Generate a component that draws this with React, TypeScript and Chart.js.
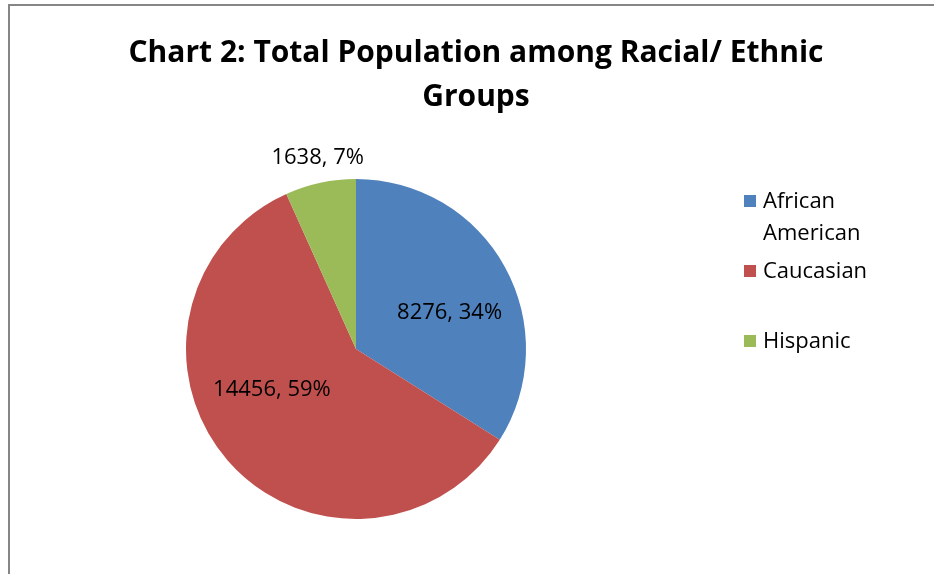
import React, { useEffect, useRef } from "react";
import { Chart, registerables } from "chart.js";

Chart.register(...registerables);

const categories = ["African American", "Caucasian", "Hispanic"];
const populationValues = [8276, 14456, 1638];
const sliceColors = ["#4F81BD", "#C0504D", "#9BBB59"];
const titleLines = ["Chart 2: Total Population among Racial/ Ethnic", "Groups"];
const legendLines = [["African", "American"], ["Caucasian"], ["Hispanic"]];

const FONT = "'Open Sans', 'Noto Sans', sans-serif";

const overlayPlugin = {
  id: "overlay",
  afterDraw(chart: any) {
    const ctx = chart.ctx as CanvasRenderingContext2D;
    const W = chart.width;
    ctx.save();
    // Title
    ctx.fillStyle = "#000";
    ctx.font = `bold 30px ${FONT}`;
    ctx.textAlign = "center";
    ctx.textBaseline = "alphabetic";
    titleLines.forEach((t, i) => ctx.fillText(t, 476, 62 + i * 44));

    // Data labels
    const meta = chart.getDatasetMeta(0);
    const data = chart.data.datasets[0].data as number[];
    const total = data.reduce((a, b) => a + b, 0);
    const radialFactor = [0.59, 0.55, 1.15];
    const angleShift = [7.8, 15, 0.8];
    ctx.font = `22px ${FONT}`;
    ctx.textAlign = "center";
    ctx.textBaseline = "middle";
    meta.data.forEach((arc: any, i: number) => {
      const p = arc.getProps(["x", "y", "startAngle", "endAngle", "outerRadius"], true);
      const mid = (p.startAngle + p.endAngle) / 2 + (angleShift[i] * Math.PI) / 180;
      const r = p.outerRadius * radialFactor[i];
      const x = p.x + Math.cos(mid) * r;
      const y = p.y + Math.sin(mid) * r;
      const pct = Math.round((data[i] / total) * 100);
      ctx.fillText(`${data[i]}, ${pct}%`, x, y);
    });

    // Legend
    ctx.textAlign = "left";
    ctx.textBaseline = "alphabetic";
    ctx.font = `22px ${FONT}`;
    legendLines.forEach((lines, i) => {
      const base = 208 + i * 70;
      ctx.fillStyle = sliceColors[i];
      ctx.fillRect(744, base - 13, 12, 12);
      ctx.fillStyle = "#000";
      lines.forEach((ln, j) => ctx.fillText(ln, 763, base + j * 32));
    });
    ctx.restore();
  },
};

export default function App() {
  const ref = useRef<HTMLCanvasElement | null>(null);
  useEffect(() => {
    if (!ref.current) return;
    const chart = new Chart(ref.current, {
      type: "pie",
      data: {
        labels: categories,
        datasets: [
          {
            data: populationValues,
            backgroundColor: sliceColors,
            borderWidth: 0,
            hoverOffset: 0,
          },
        ],
      },
      options: {
        responsive: false,
        animation: false,
        layout: { padding: { left: 186, right: 408, top: 179, bottom: 55 } },
        plugins: {
          legend: { display: false },
          title: { display: false },
          tooltip: { enabled: false },
        },
      },
      plugins: [overlayPlugin],
    });
    return () => chart.destroy();
  }, []);
  return (
    <div style={{ position: "fixed", left: 0, top: 0, width: 934, height: 574, overflow: "hidden", background: "#fff" }}>
      <div
        style={{
          position: "absolute",
          left: 8,
          top: 4,
          width: 2000,
          height: 2000,
          borderLeft: "2px solid #868686",
          borderTop: "2px solid #868686",
        }}
      />
      <canvas ref={ref} width={934} height={574} style={{ position: "absolute", left: 0, top: 0, width: 934, height: 574 }} />
    </div>
  );
}
